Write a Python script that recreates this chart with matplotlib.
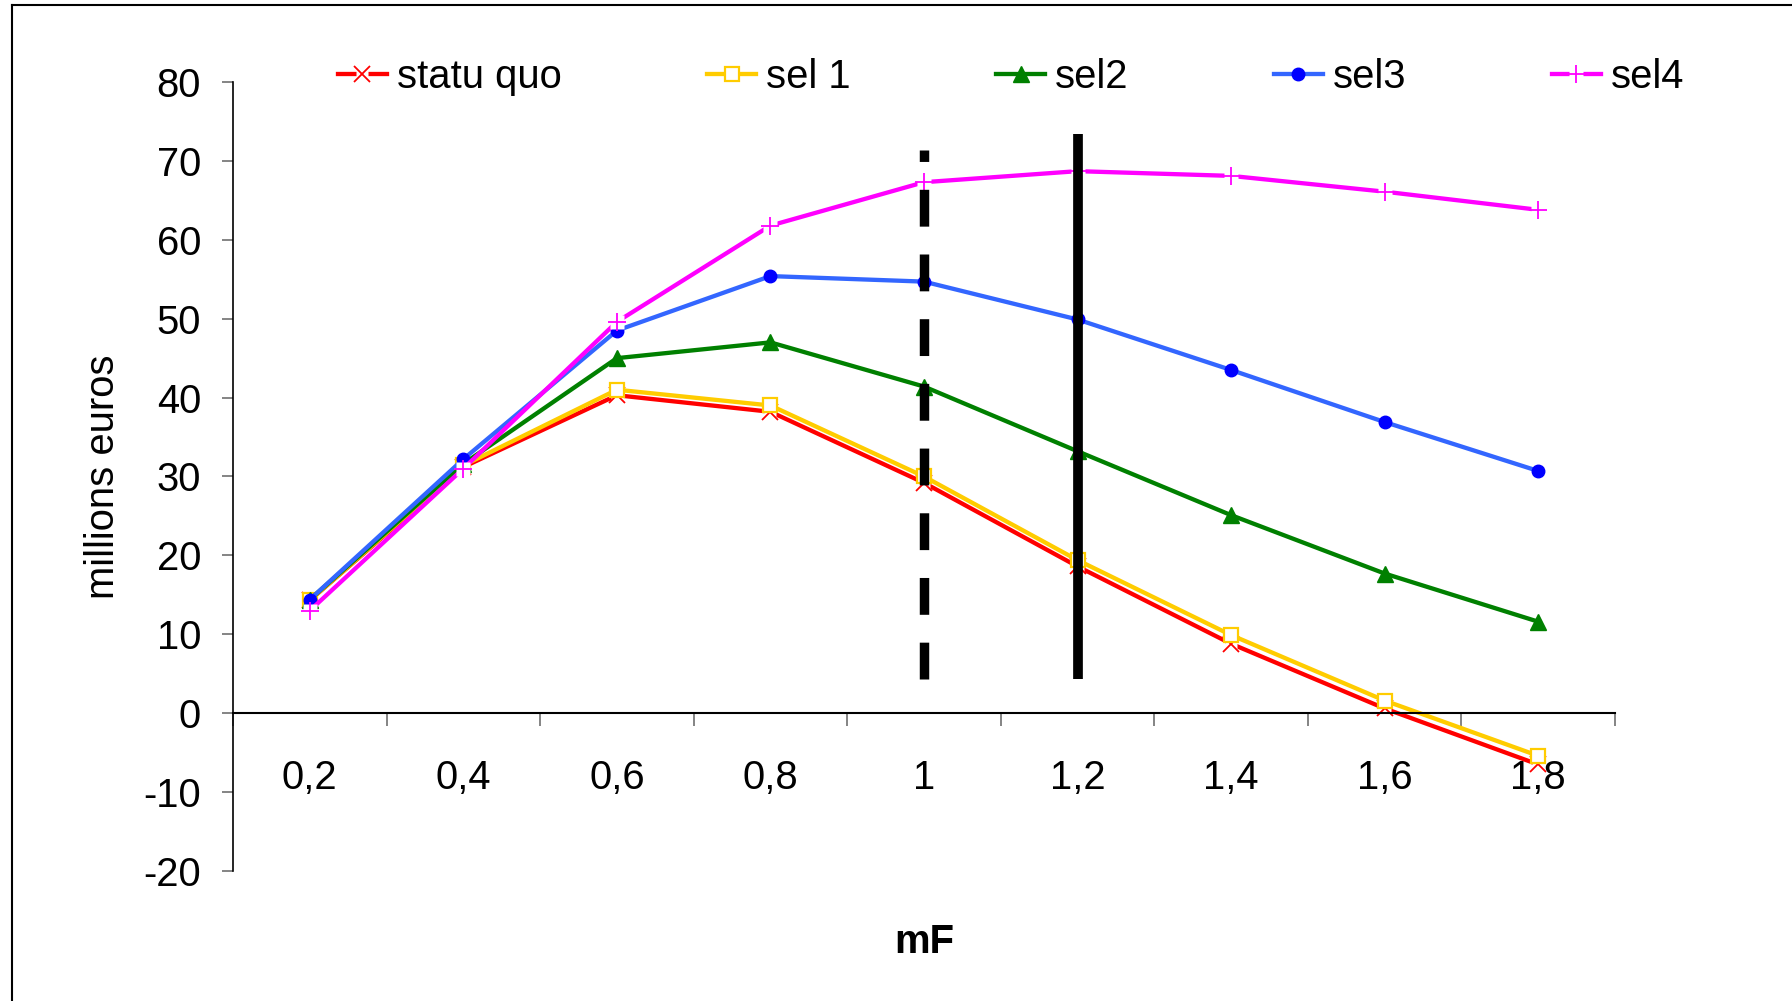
import matplotlib
matplotlib.use("Agg")
import matplotlib.pyplot as plt
from matplotlib.lines import Line2D
from matplotlib.legend_handler import HandlerTuple
import numpy as np

plt.rcParams['font.family'] = ['Liberation Sans', 'DejaVu Sans']
plt.rcParams['axes.unicode_minus'] = False

# data
mf_labels = ['0,2', '0,4', '0,6', '0,8', '1', '1,2', '1,4', '1,6', '1,8']
statu_quo = [14.3, 31.2, 40.3, 38.2, 29.2, 18.6, 8.8, 0.6, -6.5]
sel1 = [14.3, 31.4, 41.0, 39.0, 30.0, 19.4, 9.9, 1.6, -5.4]
sel2 = [14.4, 31.6, 45.0, 47.0, 41.4, 33.2, 25.1, 17.7, 11.6]
sel3 = [14.4, 32.2, 48.5, 55.4, 54.7, 49.9, 43.5, 36.9, 30.7]
sel4 = [13.0, 31.0, 49.6, 61.8, 67.3, 68.7, 68.1, 66.1, 63.8]
series_names = ['statu quo', 'sel 1', 'sel2', 'sel3', 'sel4']

# reference lines (category index, bottom, top)
dashed_ref = (4, 4.3, 71.4)
solid_ref = (5, 4.3, 73.4)

FS = 28.8
W, H = 1792, 1001

fig = plt.figure(figsize=(W / 100, H / 100), dpi=100)
ax = fig.add_axes([233 / W, 1 - 871 / H, (1615 - 233) / W, (871 - 82) / H])

x = np.arange(len(mf_labels))

styles = [
    # line colour, marker, marker size, face, edge, edge width, white gap behind
    ('#FF0000', 'x', 11, '#FF0000', '#FF0000', 1.3, True),
    ('#FFCC00', 's', 9.5, 'white', '#FFCC00', 1.6, False),
    ('#008000', '^', 11, '#008000', '#008000', 1.0, False),
    ('#3366FF', 'o', 9, '#0000FF', '#0000FF', 1.0, False),
    ('#FF00FF', '+', 12.5, '#FF00FF', '#FF00FF', 1.3, True),
]

handles = []
for vals, st in zip([statu_quo, sel1, sel2, sel3, sel4], styles):
    col, mk, ms, fc, ec, mew, gap = st
    if gap:
        ln, = ax.plot(x, vals, color=col, lw=3.1, marker='s', ms=ms * 0.85,
                      mfc='white', mec='none', clip_on=False)
    else:
        ln, = ax.plot(x, vals, color=col, lw=3.1, clip_on=False)
    mkr, = ax.plot(x, vals, ls='none', marker=mk, ms=ms, mfc=fc, mec=ec,
                   mew=mew, clip_on=False)
    handles.append((ln, mkr))

# vertical reference lines, drawn over the series
ax.plot([dashed_ref[0]] * 2, [dashed_ref[1], dashed_ref[2]], color='black',
        lw=6.8, dashes=(3.9, 2.95), solid_capstyle='butt',
        dash_capstyle='butt', zorder=10)
ax.plot([solid_ref[0]] * 2, [solid_ref[1], solid_ref[2]], color='black',
        lw=7.0, solid_capstyle='butt', zorder=10)

ax.set_xlim(-0.5, len(mf_labels) - 0.5)
ax.set_ylim(-20, 80)

for s in ['top', 'right']:
    ax.spines[s].set_visible(False)
ax.spines['bottom'].set_position(('data', 0))
ax.spines['left'].set_linewidth(1.2)
ax.spines['bottom'].set_linewidth(1.5)

ax.set_yticks(np.arange(-20, 81, 10))
ax.tick_params(axis='y', direction='out', length=8, width=1.2,
               color='#707070', labelsize=FS, pad=15)

ax.set_xticks(np.arange(-0.5, len(mf_labels), 1))
ax.set_xticklabels([])
ax.set_xticks(x, minor=True)
ax.set_xticklabels(mf_labels, minor=True)
ax.tick_params(axis='x', which='major', direction='out', length=9.5,
               width=1.2, color='#707070')
ax.tick_params(axis='x', which='minor', length=0, labelsize=FS, pad=33)

fig.text(103 / W, 1 - 477 / H, 'millions euros', rotation=90, fontsize=FS,
         ha='center', va='center')
fig.text(924 / W, 1 - 942 / H, 'mF', fontsize=FS, fontweight='bold',
         ha='center', va='center')

fig.legend(handles, series_names,
           handler_map={tuple: HandlerTuple(ndivide=1, pad=0)},
           loc='center left', bbox_to_anchor=(338 / W, 1 - 77 / H), ncol=5,
           frameon=False, borderpad=0, borderaxespad=0, handlelength=1.22,
           handletextpad=0.25, columnspacing=3.64, fontsize=FS, numpoints=1)

# chart area border (left and top edges visible)
fig.add_artist(Line2D([12 / W, 12 / W], [0, 1 - 5 / H], color='black', lw=1.5))
fig.add_artist(Line2D([12 / W, 1], [1 - 5 / H, 1 - 5 / H], color='black', lw=1.5))

fig.savefig('out.png', dpi=100)
